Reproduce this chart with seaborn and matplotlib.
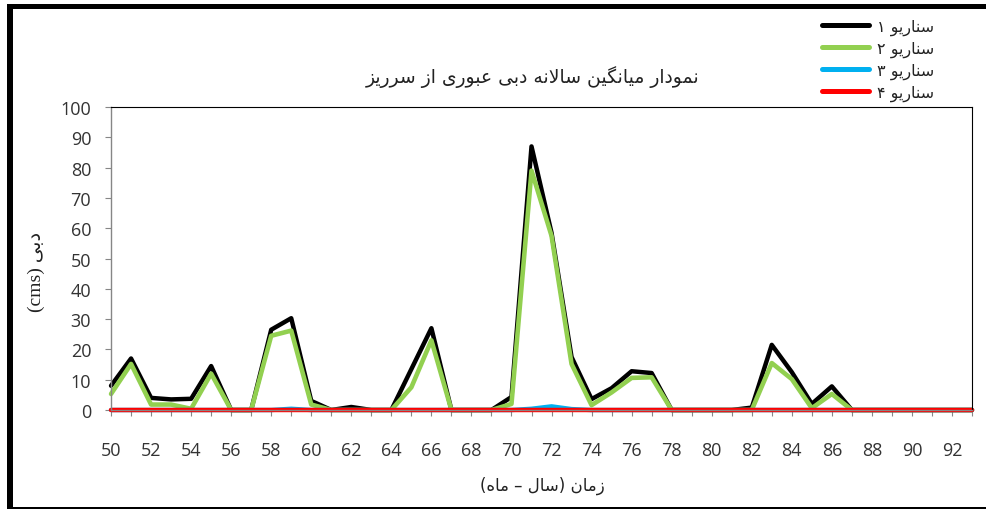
import matplotlib
matplotlib.use("Agg")
import matplotlib.pyplot as plt
import matplotlib.ticker as mticker
from matplotlib.patches import Rectangle
import seaborn as sns
import pandas as pd

# DATA (years 50..93, annual mean spillway discharge, cms)
years = list(range(50, 94))
scenario_1 = [8, 17, 4, 3.5, 3.7, 14.5, 0, 0, 26.5, 30.3,
              3, 0, 1, 0, 0, 13.5, 27, 0, 0, 0,
              4.3, 87, 58.5, 17.5, 3.6, 7.2, 12.8, 12.2, 0, 0,
              0, 0, 0.8, 21.5, 12.5, 2, 7.8, 0, 0, 0,
              0, 0, 0, 0]
scenario_2 = [5.3, 15.2, 1.8, 1.8, 0.4, 12, 0, 0, 24.5, 26.2,
              1.8, 0, 0, 0, 0, 7.5, 23, 0, 0, 0,
              2, 79, 57.5, 15.2, 1.6, 5.8, 10.6, 10.8, 0, 0,
              0, 0, 0, 15.5, 10.2, 0.6, 5.3, 0, 0, 0,
              0, 0, 0, 0]
scenario_3 = [0, 0, 0, 0, 0, 0, 0, 0, 0, 0.4,
              0, 0, 0, 0, 0, 0, 0, 0, 0, 0,
              0, 0.4, 1.2, 0.3, 0, 0, 0, 0, 0, 0,
              0, 0, 0, 0, 0, 0, 0, 0, 0, 0,
              0, 0, 0, 0]
scenario_4 = [0] * 44

series_names = ["سناریو ۱", "سناریو ۲", "سناریو ۳", "سناریو ۴"]
title_text = "نمودار میانگین سالانه دبی عبوری از سرریز"
xlabel_text = "زمان (سال – ماه)"
ylabel_word = "دبی"

# minimal Persian shaping (no arabic_reshaper in the sandbox)
FORMS = {
    'ا': ('\uFE8D', '\uFE8E', None, None),
    'ب': ('\uFE8F', '\uFE90', '\uFE91', '\uFE92'),
    'د': ('\uFEA9', '\uFEAA', None, None),
    'ر': ('\uFEAD', '\uFEAE', None, None),
    'ز': ('\uFEAF', '\uFEB0', None, None),
    'س': ('\uFEB1', '\uFEB2', '\uFEB3', '\uFEB4'),
    'ع': ('\uFEC9', '\uFECA', '\uFECB', '\uFECC'),
    'ل': ('\uFEDD', '\uFEDE', '\uFEDF', '\uFEE0'),
    'م': ('\uFEE1', '\uFEE2', '\uFEE3', '\uFEE4'),
    'ن': ('\uFEE5', '\uFEE6', '\uFEE7', '\uFEE8'),
    'ه': ('\uFEE9', '\uFEEA', '\uFEEB', '\uFEEC'),
    'و': ('\uFEED', '\uFEEE', None, None),
    'ی': ('\uFBFC', '\uFBFD', '\uFBFE', '\uFBFF'),
    'گ': ('\uFB92', '\uFB93', '\uFB94', '\uFB95'),
}


def shape(text):
    out = []
    n = len(text)
    i = 0
    while i < n:
        c = text[i]
        if c not in FORMS:
            out.append(c)
            i += 1
            continue
        prev = text[i - 1] if i > 0 else ''
        join_prev = prev in FORMS and FORMS[prev][2] is not None
        if c == 'ل' and i + 1 < n and text[i + 1] == 'ا':
            out.append('\uFEFC' if join_prev else '\uFEFB')
            i += 2
            continue
        nxt = text[i + 1] if i + 1 < n else ''
        join_next = FORMS[c][2] is not None and nxt in FORMS
        iso, fin, ini, med = FORMS[c]
        if join_prev and join_next:
            out.append(med)
        elif join_prev:
            out.append(fin)
        elif join_next:
            out.append(ini)
        else:
            out.append(iso)
        i += 1
    return ''.join(out)


def rtl(text):
    s = shape(text)[::-1]
    return s.translate(str.maketrans('()', ')('))


sns.set_style("white")
plt.rcParams['font.family'] = ['Open Sans', 'DejaVu Sans']

df = pd.DataFrame({'year': years, 's1': scenario_1, 's2': scenario_2,
                   's3': scenario_3, 's4': scenario_4})

fig = plt.figure(figsize=(9.87, 5.1), dpi=100)
ax = fig.add_axes([0.1125, 0.1941, 0.8723, 0.5941])

colors = ['#000000', '#92D050', '#00B0F0', '#FF0000']
widths = [3.2, 3.3, 3.2, 3.2]
for col, name, c, w in zip(['s1', 's2', 's3', 's4'], series_names, colors, widths):
    sns.lineplot(data=df, x='year', y=col, color=c, lw=w, label=rtl(name),
                 ax=ax, clip_on=False, legend=False)

ax.set_xlim(50, 93)
ax.set_ylim(0, 100)
ax.yaxis.set_major_locator(mticker.MultipleLocator(10))
ax.xaxis.set_major_locator(mticker.FixedLocator(years))
ax.xaxis.set_major_formatter(mticker.FuncFormatter(
    lambda v, p: str(int(round(v))) if int(round(v)) % 2 == 0 else ''))
ax.set_xlabel('')
ax.set_ylabel('')

for side in ['left', 'bottom']:
    ax.spines[side].set_color('#868686')
    ax.spines[side].set_linewidth(1)
for side in ['top', 'right']:
    ax.spines[side].set_color('#000000')
    ax.spines[side].set_linewidth(0.8)

ax.tick_params(axis='y', direction='out', length=4.3, width=0.8, color='#868686',
               pad=10, labelsize=13, labelcolor='#333333', left=True)
ax.tick_params(axis='x', direction='out', length=4, width=0.8, color='#868686',
               pad=18, labelsize=13, labelcolor='#333333', bottom=True)

# legend (handle left, text right)
handles, labels = ax.get_legend_handles_labels()
leg = fig.legend(handles, labels, loc='center left',
                 bbox_to_anchor=(808 / 987, 1 - 61 / 510),
                 frameon=False, handlelength=2.9, handletextpad=0.5,
                 labelspacing=0.36, prop={'family': 'DejaVu Sans', 'size': 11.5})
for t in leg.get_texts():
    t.set_color('#222222')
for h in leg.get_lines():
    h.set_linewidth(3.6)

fig.text(533 / 987, 1 - 77 / 510, rtl(title_text), ha='center', va='center',
         fontsize=13.5, family='DejaVu Sans', color='#222222')
fig.text(542 / 987, 1 - 486 / 510, rtl(xlabel_text), ha='center', va='center',
         fontsize=12, family='DejaVu Sans', color='#222222')
fig.text(36 / 987, 1 - 272 / 510, '(cms) ' + rtl(ylabel_word), ha='center',
         va='center', rotation=90, fontsize=14,
         family=['Liberation Serif', 'DejaVu Sans'], color='#222222')

# outer frame of the chart picture
fig.add_artist(Rectangle((7 / 987, 1 - 10 / 510), 980 / 987, 5 / 510,
                         transform=fig.transFigure, color='black', lw=0))
fig.add_artist(Rectangle((7 / 987, 0), 6 / 987, 1 - 5 / 510,
                         transform=fig.transFigure, color='black', lw=0))
fig.add_artist(Rectangle((7 / 987, 0), 980 / 987, 2 / 510,
                         transform=fig.transFigure, color='black', lw=0))

fig.savefig('out.png', dpi=100)
